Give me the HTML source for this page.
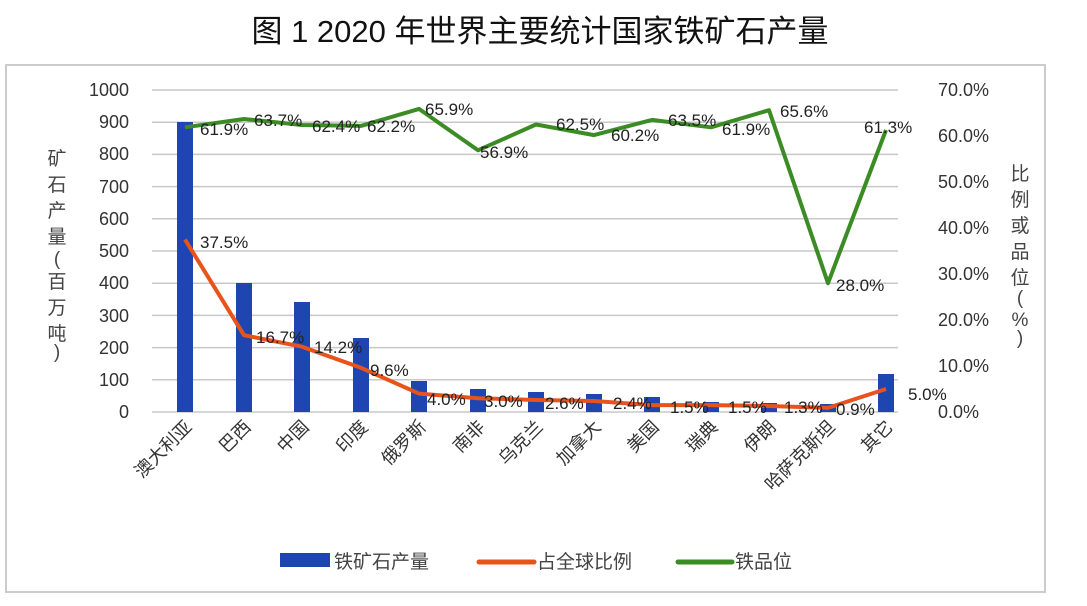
<!DOCTYPE html>
<html><head><meta charset="utf-8"><style>
body{margin:0;background:#fff}
svg text{font-family:"Liberation Sans","Noto Sans CJK SC",sans-serif}
.s{font-family:"Noto Serif CJK SC","Liberation Serif",serif}
</style></head><body>
<svg width="1087" height="601" viewBox="0 0 1087 601">
<text x="540" y="42" font-size="31" text-anchor="middle" fill="#111">图 1 2020 年世界主要统计国家铁矿石产量</text>
<rect x="6" y="65" width="1039" height="527" fill="none" stroke="#ccc" stroke-width="2"/>
<g stroke="#c8c8c8" stroke-width="1.5">
<line x1="152" x2="898" y1="90" y2="90"/><line x1="152" x2="898" y1="122.2" y2="122.2"/><line x1="152" x2="898" y1="154.4" y2="154.4"/><line x1="152" x2="898" y1="186.6" y2="186.6"/><line x1="152" x2="898" y1="218.8" y2="218.8"/><line x1="152" x2="898" y1="251" y2="251"/><line x1="152" x2="898" y1="283.2" y2="283.2"/><line x1="152" x2="898" y1="315.4" y2="315.4"/><line x1="152" x2="898" y1="347.6" y2="347.6"/><line x1="152" x2="898" y1="379.8" y2="379.8"/><line x1="152" x2="898" y1="412" y2="412"/>
</g>
<g font-size="18" fill="#333" text-anchor="end">
<text x="129" y="96">1000</text><text x="129" y="128">900</text><text x="129" y="160">800</text><text x="129" y="193">700</text><text x="129" y="225">600</text><text x="129" y="257">500</text><text x="129" y="289">400</text><text x="129" y="322">300</text><text x="129" y="354">200</text><text x="129" y="386">100</text><text x="129" y="418">0</text>
</g>
<g font-size="18" fill="#333">
<text x="938" y="96">70.0%</text><text x="938" y="142">60.0%</text><text x="938" y="188">50.0%</text><text x="938" y="234">40.0%</text><text x="938" y="280">30.0%</text><text x="938" y="326">20.0%</text><text x="938" y="372">10.0%</text><text x="938" y="418">0.0%</text>
</g>
<g class="s" font-size="19" fill="#444" text-anchor="middle">
<text x="57" y="165">矿</text><text x="57" y="191">石</text><text x="57" y="217">产</text><text x="57" y="243">量</text><text x="57" y="265">(</text><text x="57" y="288">百</text><text x="57" y="314">万</text><text x="57" y="340">吨</text><text x="57" y="358">)</text>
<text x="1020" y="180">比</text><text x="1020" y="206">例</text><text x="1020" y="232">或</text><text x="1020" y="258">品</text><text x="1020" y="284">位</text><text x="1020" y="304">(</text><text x="1020" y="326">%</text><text x="1020" y="344">)</text>
</g>
<g fill="#1f46b0">
<rect x="177" y="122" width="16" height="290"/><rect x="236" y="283" width="16" height="129"/><rect x="294" y="302" width="16" height="110"/><rect x="353" y="338" width="16" height="74"/><rect x="411" y="381" width="16" height="31"/><rect x="470" y="389" width="16" height="23"/><rect x="528" y="392" width="16" height="20"/><rect x="586" y="394" width="16" height="18"/><rect x="644" y="397" width="16" height="15"/><rect x="703" y="402" width="16" height="10"/><rect x="761" y="403" width="16" height="9"/><rect x="820" y="404" width="16" height="8"/><rect x="878" y="374" width="16" height="38"/>
</g>
<polyline fill="none" stroke="#e8531c" stroke-width="4" stroke-linejoin="round" points="185,239.5 244,335.2 302,346.7 361,367.8 419,393.6 478,398.2 536,400 594,401 652,405.1 711,405.1 769,406 828,407.9 886,389"/>
<polyline fill="none" stroke="#3b8c25" stroke-width="4" stroke-linejoin="round" points="185,127.3 244,119 302,125 361,125.9 419,108.9 478,150.3 536,124.5 594,135.1 652,119.9 711,127.3 769,110.2 828,283.2 886,130"/>
<g font-size="17" fill="#222">
<text x="200" y="135">61.9%</text><text x="254" y="126">63.7%</text><text x="312" y="132">62.4%</text><text x="367" y="132">62.2%</text><text x="425" y="115">65.9%</text><text x="480" y="158">56.9%</text><text x="556" y="130">62.5%</text><text x="611" y="141">60.2%</text><text x="668" y="126">63.5%</text><text x="722" y="135">61.9%</text><text x="780" y="117">65.6%</text><text x="836" y="291">28.0%</text><text x="864" y="133">61.3%</text>
<text x="200" y="248">37.5%</text><text x="256" y="343">16.7%</text><text x="314" y="353">14.2%</text><text x="370" y="376">9.6%</text><text x="427" y="405">4.0%</text><text x="484" y="407">3.0%</text><text x="545" y="409">2.6%</text><text x="613" y="409">2.4%</text><text x="670" y="413">1.5%</text><text x="728" y="413">1.5%</text><text x="784" y="413">1.3%</text><text x="836" y="415">0.9%</text><text x="908" y="400">5.0%</text>
</g>
<g class="s" font-size="18" fill="#333" text-anchor="end">
<text transform="translate(193,428) rotate(-45)">澳大利亚</text>
<text transform="translate(252,428) rotate(-45)">巴西</text>
<text transform="translate(310,428) rotate(-45)">中国</text>
<text transform="translate(369,428) rotate(-45)">印度</text>
<text transform="translate(427,428) rotate(-45)">俄罗斯</text>
<text transform="translate(486,428) rotate(-45)">南非</text>
<text transform="translate(544,428) rotate(-45)">乌克兰</text>
<text transform="translate(602,428) rotate(-45)">加拿大</text>
<text transform="translate(660,428) rotate(-45)">美国</text>
<text transform="translate(719,428) rotate(-45)">瑞典</text>
<text transform="translate(777,428) rotate(-45)">伊朗</text>
<text transform="translate(836,428) rotate(-45)">哈萨克斯坦</text>
<text transform="translate(894,428) rotate(-45)">其它</text>
</g>
<rect x="280" y="553" width="50" height="14" fill="#1f46b0"/>
<line x1="479" x2="534" y1="562" y2="562" stroke="#e8531c" stroke-width="5" stroke-linecap="round"/>
<line x1="678" x2="732" y1="562" y2="562" stroke="#3b8c25" stroke-width="5" stroke-linecap="round"/>
<g class="s" font-size="19" fill="#444">
<text x="334" y="568">铁矿石产量</text><text x="537" y="568">占全球比例</text><text x="735" y="568">铁品位</text>
</g>
</svg>
</body></html>
